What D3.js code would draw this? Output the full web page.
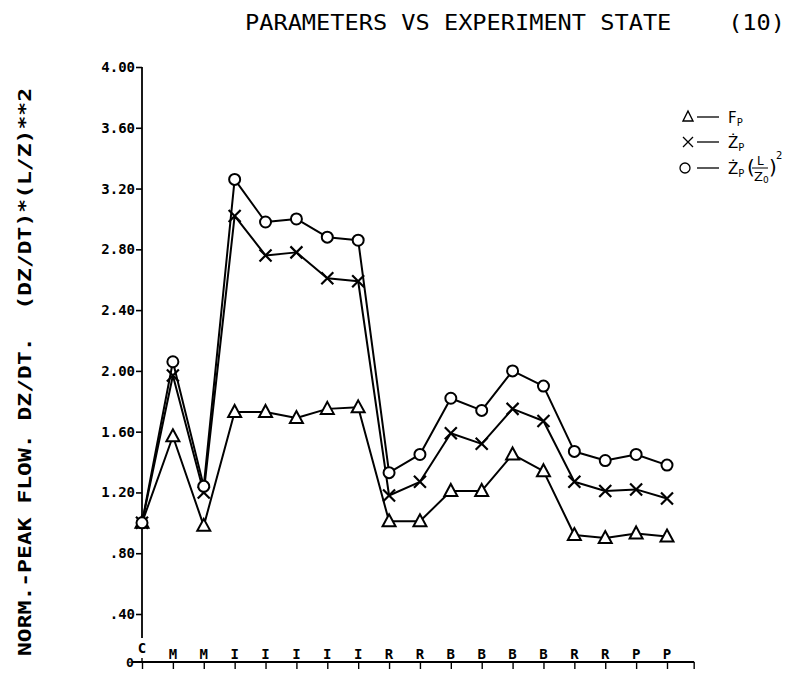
<!DOCTYPE html>
<html>
<head>
<meta charset="utf-8">
<script src="https://cdn.jsdelivr.net/npm/d3@7"></script>
<style>
  html, body { margin: 0; padding: 0; background: #fff; }
  svg { display: block; }
  text { fill: #000; }
</style>
</head>
<body>
<svg id="chart" width="791" height="689"></svg>
<script>
// Experiment states along the x axis (one point per state)
const states = ["C","M","M","I","I","I","I","I","R","R","B","B","B","B","R","R","P","P"];

// Normalised peak flow F_P
const peakFlow = [1.00,1.57,0.98,1.73,1.73,1.69,1.75,1.76,1.01,1.01,1.21,1.21,1.45,1.34,0.92,0.90,0.93,0.91];
// Normalised dZ/dt
const dzdt     = [1.00,1.97,1.20,3.02,2.76,2.78,2.61,2.59,1.18,1.27,1.59,1.52,1.75,1.67,1.27,1.21,1.22,1.16];
// Normalised (dZ/dt)*(L/Z)**2
const dzdtLZ   = [1.00,2.06,1.24,3.26,2.98,3.00,2.88,2.86,1.33,1.45,1.82,1.74,2.00,1.90,1.47,1.41,1.45,1.38];

const yTicks = [0.4,0.8,1.2,1.6,2.0,2.4,2.8,3.2,3.6,4.0];
const yTickLabels = [".40",".80","1.20","1.60","2.00","2.40","2.80","3.20","3.60","4.00"];

const svg = d3.select("#chart");

const x = d3.scalePoint().domain(d3.range(states.length)).range([142, 667]);
const y = d3.scaleLinear().domain([0.4, 4.0]).range([614, 67]);

const axisY0 = 638;   // lower end of the value axis
const baseY = 662;    // state axis

// Title
svg.append("text")
  .attr("x", 245).attr("y", 30)
  .attr("font-family", "DejaVu Sans Mono, monospace")
  .attr("font-size", 22)
  .attr("textLength", 540).attr("lengthAdjust", "spacingAndGlyphs")
  .style("white-space", "pre")
  .text("PARAMETERS VS EXPERIMENT STATE    (10)");

// Value-axis title
svg.append("text")
  .attr("transform", "translate(31,372) rotate(-90)")
  .attr("text-anchor", "middle")
  .attr("font-family", "DejaVu Sans Mono, monospace")
  .attr("font-weight", "bold")
  .attr("font-size", 18)
  .attr("textLength", 568).attr("lengthAdjust", "spacingAndGlyphs")
  .style("white-space", "pre")
  .text("NORM.-PEAK FLOW. DZ/DT.  (DZ/DT)*(L/Z)**2");

// Value axis
const yAxis = d3.axisLeft(y)
  .tickValues(yTicks)
  .tickFormat((d, i) => yTickLabels[i])
  .tickSize(6).tickPadding(1);
const gy = svg.append("g").attr("transform", "translate(142,0)").call(yAxis);
gy.select(".domain").remove();
gy.selectAll(".tick line").attr("stroke", "#000").attr("stroke-width", 1.6);
gy.selectAll(".tick text")
  .attr("font-family", "DejaVu Sans Mono, monospace")
  .attr("font-weight", "bold").attr("font-size", 14)
  .attr("fill", "#000");
svg.append("line")
  .attr("x1", 142).attr("x2", 142)
  .attr("y1", y(4.0)).attr("y2", axisY0)
  .attr("stroke", "#000").attr("stroke-width", 1.8);

// State axis
const xAxis = d3.axisBottom(x)
  .tickValues(d3.range(states.length))
  .tickFormat("")
  .tickSize(7);
const gx = svg.append("g").attr("transform", `translate(0,${baseY})`).call(xAxis);
gx.select(".domain").remove();
gx.selectAll(".tick line").attr("stroke", "#000").attr("stroke-width", 1.4);
const step = x.step();
const axisEnd = x(states.length - 1) + step * 0.88;
svg.append("line")
  .attr("x1", 132).attr("x2", axisEnd)
  .attr("y1", baseY).attr("y2", baseY)
  .attr("stroke", "#000").attr("stroke-width", 1.8);
svg.append("line")
  .attr("x1", axisEnd).attr("x2", axisEnd)
  .attr("y1", baseY).attr("y2", baseY + 7)
  .attr("stroke", "#000").attr("stroke-width", 1.4);
svg.append("line")
  .attr("x1", 142).attr("x2", 142)
  .attr("y1", baseY - 4).attr("y2", baseY)
  .attr("stroke", "#000").attr("stroke-width", 1.4);
svg.append("text")
  .attr("x", 130).attr("y", baseY + 5)
  .attr("text-anchor", "middle")
  .attr("font-family", "DejaVu Sans Mono, monospace")
  .attr("font-weight", "bold").attr("font-size", 13)
  .text("0");

svg.append("g").selectAll("text")
  .data(states)
  .join("text")
  .attr("x", (d, i) => x(i))
  .attr("y", (d, i) => i === 0 ? baseY - 9 : baseY - 3)
  .attr("text-anchor", "middle")
  .attr("font-family", "DejaVu Sans Mono, monospace")
  .attr("font-weight", "bold").attr("font-size", 14)
  .text(d => d);

// Series lines and markers
const line = d3.line().x((d, i) => x(i)).y(d => y(d));
const series = [
  { values: peakFlow, marker: "triangle" },
  { values: dzdt, marker: "cross" },
  { values: dzdtLZ, marker: "circle" }
];

function drawMarker(g, kind, cx, cy) {
  if (kind === "circle") {
    g.append("circle").attr("cx", cx).attr("cy", cy).attr("r", 5.5)
      .attr("fill", "#fff").attr("stroke", "#000").attr("stroke-width", 2);
  } else if (kind === "triangle") {
    g.append("path")
      .attr("d", `M${cx},${cy - 7}L${cx + 6.5},${cy + 5}L${cx - 6.5},${cy + 5}Z`)
      .attr("fill", "#fff").attr("stroke", "#000").attr("stroke-width", 2);
  } else {
    const s = 6;
    g.append("path")
      .attr("d", `M${cx - s},${cy - s}L${cx + s},${cy + s}M${cx - s},${cy + s}L${cx + s},${cy - s}`)
      .attr("stroke", "#000").attr("stroke-width", 2.2);
  }
}

series.forEach(s => {
  svg.append("path")
    .datum(s.values)
    .attr("d", line)
    .attr("fill", "none")
    .attr("stroke", "#000")
    .attr("stroke-width", 2)
    .attr("stroke-linejoin", "round");
});
series.forEach(s => {
  const g = svg.append("g");
  s.values.forEach((v, i) => drawMarker(g, s.marker, x(i), y(v)));
});

// Legend
const lg = svg.append("g").attr("font-family", "DejaVu Sans, sans-serif");
const legendRows = [
  { marker: "triangle", yy: 117 },
  { marker: "cross", yy: 142 },
  { marker: "circle", yy: 168 }
];
legendRows.forEach(r => {
  const mg = lg.append("g");
  if (r.marker === "circle") {
    mg.append("circle").attr("cx", 685).attr("cy", r.yy).attr("r", 5)
      .attr("fill", "none").attr("stroke", "#000").attr("stroke-width", 1.3);
  } else if (r.marker === "triangle") {
    mg.append("path").attr("d", `M688,${r.yy - 6}L693,${r.yy + 4}L683,${r.yy + 4}Z`)
      .attr("fill", "none").attr("stroke", "#000").attr("stroke-width", 1.4);
  } else {
    mg.append("path").attr("d", `M683,${r.yy - 5}L693,${r.yy + 5}M683,${r.yy + 5}L693,${r.yy - 5}`)
      .attr("stroke", "#000").attr("stroke-width", 1.3);
  }
  lg.append("line").attr("x1", 697).attr("x2", 719).attr("y1", r.yy).attr("y2", r.yy)
    .attr("stroke", "#000").attr("stroke-width", 1.3);
});
function nameWithSub(base, yy) {
  const tx = lg.append("text").attr("x", 728).attr("y", yy + 6).attr("font-size", 15);
  tx.append("tspan").text(base);
  tx.append("tspan").attr("font-size", 10).attr("dy", 3).text("P");
}
nameWithSub("F", 117);
nameWithSub("Ż", 142);
nameWithSub("Ż", 168);
lg.append("text").attr("x", 747).attr("y", 174).attr("font-size", 20).text("(");
lg.append("text").attr("x", 757).attr("y", 165).attr("font-size", 12).text("L");
lg.append("line").attr("x1", 752).attr("x2", 768).attr("y1", 168).attr("y2", 168)
  .attr("stroke", "#000").attr("stroke-width", 1);
const zz = lg.append("text").attr("x", 754).attr("y", 181).attr("font-size", 13);
zz.append("tspan").text("Z");
zz.append("tspan").attr("font-size", 9).attr("dy", 2).text("0");
lg.append("text").attr("x", 769).attr("y", 174).attr("font-size", 20).text(")");
lg.append("text").attr("x", 776).attr("y", 159).attr("font-size", 10).text("2");
</script>
</body>
</html>
